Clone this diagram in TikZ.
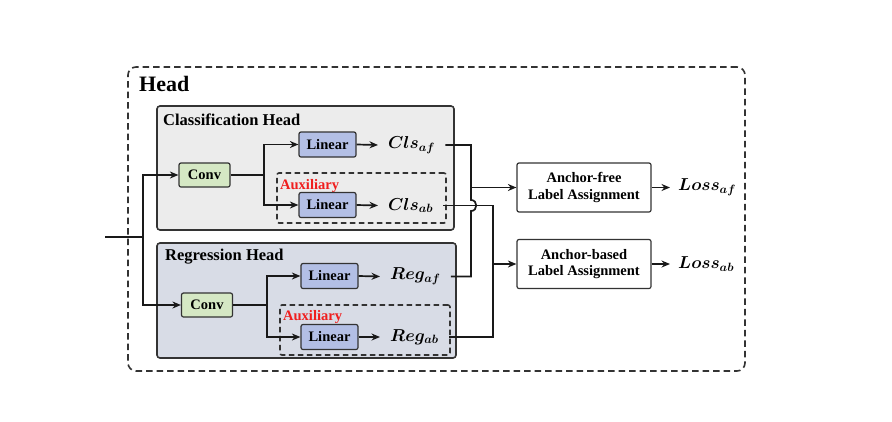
\documentclass[tikz,border=0pt]{standalone}
\usepackage{fontspec}
\setmainfont{Liberation Serif}
\usetikzlibrary{arrows.meta,calc}
\definecolor{clsgray}{HTML}{ECECEC}
\definecolor{reggray}{HTML}{D8DCE6}
\definecolor{convgreen}{HTML}{D5E8C4}
\definecolor{linblue}{HTML}{B3BFE5}
\definecolor{edge}{HTML}{333333}
\definecolor{auxred}{HTML}{F01E1E}
\begin{document}
\begin{tikzpicture}[x=1pt,y=-1pt,
  line/.style={line width=1.7pt, draw=black!90},
  arr/.style={line, -{Stealth[length=8.5pt,width=7pt]}},
  blk/.style={draw=edge, line width=1.2pt, rounded corners=2pt, inner sep=0pt,
    font=\bfseries\fontsize{14.5}{15}\selectfont},
  convbox/.style={blk, fill=convgreen, minimum width=51pt, minimum height=24pt},
  linbox/.style={blk, fill=linblue, minimum width=57pt, minimum height=25pt},
  assignbox/.style={blk, fill=white, minimum width=134pt, minimum height=49pt, align=center,
    font=\bfseries\fontsize{14.5}{16.5}\selectfont},
  panel/.style={draw=edge, line width=1.6pt, rounded corners=3pt, inner sep=0pt},
  auxbox/.style={draw=edge, line width=1.6pt, dash pattern=on 5.5pt off 3.5pt, rounded corners=2pt, inner sep=0pt},
  outerbox/.style={draw=edge, line width=1.6pt, dash pattern=on 6.5pt off 4pt, rounded corners=8pt, inner sep=0pt},
  title/.style={anchor=base west, inner sep=0pt, font=\bfseries\fontsize{16.5}{17}\selectfont},
  auxlbl/.style={anchor=base west, inner sep=0pt, text=auxred, font=\bfseries\fontsize{14.5}{15}\selectfont},
  outtxt/.style={anchor=west, inner xsep=10pt, inner ysep=2pt, font=\fontsize{17}{19}\selectfont\boldmath},
  losstxt/.style={anchor=west, inner xsep=8pt, inner ysep=2pt, font=\fontsize{17}{19}\selectfont\boldmath}
]
\useasboundingbox (0,0) rectangle (892,421);

% outer container
\node[outerbox, minimum width=617pt, minimum height=304pt] (head) at (436.5,219) {};
\node[anchor=base west, inner sep=0pt, font=\bfseries\fontsize{22}{23}\selectfont] (headlbl) at (139,91) {Head};

% panels
\node[panel, fill=clsgray, minimum width=297pt, minimum height=124pt] (clspanel) at (305.5,168) {};
\node[title] (clstitle) at (163,125) {Classification Head};
\node[panel, fill=reggray, minimum width=299pt, minimum height=115pt] (regpanel) at (306.5,300.5) {};
\node[title] (regtitle) at (165,260) {Regression Head};

% auxiliary boxes
\node[auxbox, minimum width=169pt, minimum height=50pt] (clsaux) at (361.5,198) {};
\node[auxlbl] (clsauxlbl) at (280,189) {Auxiliary};
\node[auxbox, minimum width=170pt, minimum height=50pt] (regaux) at (365,330) {};
\node[auxlbl] (regauxlbl) at (283,320.5) {Auxiliary};

% blocks
\node[convbox] (clsconv) at (204.5,175) {Conv};
\node[linbox] (clslinaf) at (327.5,144.5) {Linear};
\node[linbox] (clslinab) at (327.5,205) {Linear};
\node[convbox] (regconv) at (207,305) {Conv};
\node[linbox] (reglinaf) at (329.5,276) {Linear};
\node[linbox] (reglinab) at (329.5,337) {Linear};

% outputs
\node[outtxt] (clsaf) at (378,145) {$Cls_{af}$};
\node[outtxt] (clsab) at (378,205.5) {$Cls_{ab}$};
\node[outtxt] (regaf) at (380,276.5) {$Reg_{af}$};
\node[outtxt] (regab) at (380,337) {$Reg_{ab}$};

% assignment boxes
\node[assignbox] (afbox) at (584,187.5) {Anchor-free\\Label Assignment};
\node[assignbox] (abbox) at (584,264) {Anchor-based\\Label Assignment};
\node[losstxt] (lossaf) at (670,187.5) {$Loss_{af}$};
\node[losstxt] (lossab) at (670,264) {$Loss_{ab}$};

% input
\coordinate (in) at (105,237);
\coordinate (split) at (143,237);
\draw[line] (in) -- (split);
\draw[arr] (split) |- (clsconv.west);
\draw[arr] (split) |- (regconv.west);

% cls branch
\coordinate (cb) at (264,175);
\draw[line] (clsconv.east) -- (cb);
\draw[arr] (cb) |- (clslinaf.west);
\draw[arr] (cb) |- (clslinab.west);
\draw[arr] (clslinaf.east) -- (clsaf.west);
\draw[arr] (clslinab.east) -- (clsab.west);

% reg branch
\coordinate (rb) at (267,305);
\draw[line] (regconv.east) -- (rb);
\draw[arr] (rb) |- (reglinaf.west);
\draw[arr] (rb) |- (reglinab.west);
\draw[arr] (reglinaf.east) -- (regaf.west);
\draw[arr] (reglinab.east) -- (regab.west);

% merge to assignment
\coordinate (ja) at (471,187.5);
\coordinate (jb) at (493,264);
\coordinate (hopc) at (ja |- clsab.east);
\draw[line] (clsaf.east) -- (clsaf.east -| ja) -- ($(hopc)+(0,-5.5)$)
  .. controls ($(hopc)+(7,-5.5)$) and ($(hopc)+(7,5.5)$) .. ($(hopc)+(0,5.5)$)
  -- (regaf.east -| ja) -- (regaf.east);
\draw[arr] (ja) -- (afbox.west);
\draw[line] (clsab.east) -- (clsab.east -| jb) -- (regab.east -| jb) -- (regab.east);
\draw[arr] (jb) -- (abbox.west);

% to loss
\draw[arr] (afbox.east) -- (lossaf.west);
\draw[arr] (abbox.east) -- (lossab.west);
\end{tikzpicture}
\end{document}
